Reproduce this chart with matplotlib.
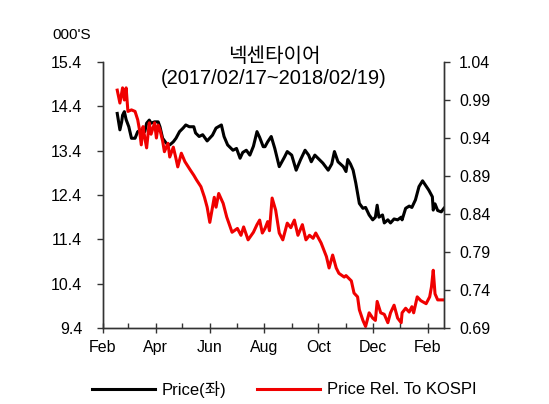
import pandas as pd
import matplotlib
matplotlib.use('Agg')
import matplotlib.pyplot as plt
import matplotlib.dates as mdates

plt.rcParams['font.family'] = ['Liberation Sans', 'Noto Sans CJK KR']

# 주가 (천원, 좌축)
price_dates = ['2017-02-17', '2017-02-20', '2017-02-22', '2017-02-23', '2017-02-25',
               '2017-02-27', '2017-03-02', '2017-03-05', '2017-03-09', '2017-03-12',
               '2017-03-16', '2017-03-20', '2017-03-22', '2017-03-25', '2017-03-27',
               '2017-03-31', '2017-04-04', '2017-04-06', '2017-04-09', '2017-04-13',
               '2017-04-17', '2017-04-21', '2017-04-24', '2017-04-28', '2017-05-02',
               '2017-05-05', '2017-05-09', '2017-05-14', '2017-05-16', '2017-05-20',
               '2017-05-24', '2017-05-29', '2017-06-04', '2017-06-08', '2017-06-14',
               '2017-06-17', '2017-06-21', '2017-06-27', '2017-07-01', '2017-07-05',
               '2017-07-08', '2017-07-12', '2017-07-16', '2017-07-20', '2017-07-24',
               '2017-07-27', '2017-07-31', '2017-08-02', '2017-08-05', '2017-08-09',
               '2017-08-13', '2017-08-18', '2017-08-24', '2017-08-27', '2017-09-01',
               '2017-09-06', '2017-09-11', '2017-09-16', '2017-09-20', '2017-09-23',
               '2017-09-27', '2017-10-02', '2017-10-06', '2017-10-12', '2017-10-16',
               '2017-10-19', '2017-10-23', '2017-10-29', '2017-11-01', '2017-11-03',
               '2017-11-06', '2017-11-09', '2017-11-12', '2017-11-16', '2017-11-20',
               '2017-11-23', '2017-11-27', '2017-12-01', '2017-12-04', '2017-12-06',
               '2017-12-08', '2017-12-12', '2017-12-14', '2017-12-18', '2017-12-21',
               '2017-12-25', '2017-12-29', '2018-01-02', '2018-01-03', '2018-01-07',
               '2018-01-11', '2018-01-14', '2018-01-18', '2018-01-22', '2018-01-26',
               '2018-01-30', '2018-02-02', '2018-02-06', '2018-02-07', '2018-02-09',
               '2018-02-12', '2018-02-16', '2018-02-19']
price = [14.24, 13.87, 14.05, 14.20, 14.28,
         14.10, 13.94, 13.68, 13.68, 13.83,
         13.87, 13.83, 14.02, 14.09, 14.02,
         14.05, 14.05, 13.94, 13.68, 13.57,
         13.53, 13.60, 13.68, 13.83, 13.91,
         13.98, 13.94, 13.94, 13.80, 13.72,
         13.76, 13.62, 13.75, 13.91, 13.98,
         13.72, 13.53, 13.41, 13.45, 13.23,
         13.36, 13.41, 13.30, 13.50, 13.83,
         13.70, 13.49, 13.49, 13.60, 13.72,
         13.45, 13.04, 13.26, 13.38, 13.30,
         12.96, 13.20, 13.41, 13.30, 13.15,
         13.30, 13.20, 13.12, 12.96, 13.10,
         13.38, 13.15, 13.04, 12.93, 13.20,
         13.10, 12.96, 12.67, 12.21, 12.10,
         12.12, 11.95, 11.84, 11.90, 12.17,
         11.90, 11.95, 11.77, 11.84, 11.77,
         11.86, 11.84, 11.90, 11.84, 12.10,
         12.15, 12.12, 12.29, 12.59, 12.72,
         12.60, 12.51, 12.36, 12.06, 12.20,
         12.05, 12.02, 12.10]

# KOSPI 대비 상대주가 (우축)
rel_dates = ['2017-02-17', '2017-02-20', '2017-02-23', '2017-02-25', '2017-02-27',
             '2017-03-01', '2017-03-05', '2017-03-09', '2017-03-12', '2017-03-14',
             '2017-03-16', '2017-03-18', '2017-03-20', '2017-03-22', '2017-03-25',
             '2017-03-27', '2017-03-31', '2017-04-02', '2017-04-04', '2017-04-06',
             '2017-04-09', '2017-04-11', '2017-04-15', '2017-04-17', '2017-04-21',
             '2017-04-24', '2017-04-26', '2017-04-30', '2017-05-04', '2017-05-10',
             '2017-05-14', '2017-05-17', '2017-05-22', '2017-05-26', '2017-05-29',
             '2017-06-01', '2017-06-06', '2017-06-08', '2017-06-11', '2017-06-16',
             '2017-06-20', '2017-06-26', '2017-07-02', '2017-07-06', '2017-07-09',
             '2017-07-14', '2017-07-20', '2017-07-24', '2017-07-27', '2017-07-30',
             '2017-08-02', '2017-08-05', '2017-08-07', '2017-08-10', '2017-08-14',
             '2017-08-18', '2017-08-22', '2017-08-27', '2017-08-31', '2017-09-04',
             '2017-09-08', '2017-09-13', '2017-09-17', '2017-09-21', '2017-09-25',
             '2017-09-28', '2017-10-04', '2017-10-10', '2017-10-13', '2017-10-17',
             '2017-10-21', '2017-10-24', '2017-10-30', '2017-11-01', '2017-11-07',
             '2017-11-10', '2017-11-14', '2017-11-16', '2017-11-20', '2017-11-23',
             '2017-11-27', '2017-12-01', '2017-12-04', '2017-12-06', '2017-12-10',
             '2017-12-14', '2017-12-18', '2017-12-21', '2017-12-25', '2017-12-29',
             '2018-01-02', '2018-01-03', '2018-01-07', '2018-01-11', '2018-01-14',
             '2018-01-16', '2018-01-20', '2018-01-24', '2018-01-30', '2018-02-03',
             '2018-02-05', '2018-02-07', '2018-02-09', '2018-02-12', '2018-02-19']
rel = [1.003, 0.986, 1.006, 0.990, 1.006,
       0.975, 0.977, 0.975, 0.964, 0.951,
       0.931, 0.955, 0.940, 0.927, 0.960,
       0.945, 0.960, 0.940, 0.957, 0.951,
       0.936, 0.922, 0.933, 0.915, 0.928,
       0.913, 0.902, 0.920, 0.909, 0.898,
       0.891, 0.885, 0.876, 0.862, 0.849,
       0.829, 0.862, 0.849, 0.867, 0.854,
       0.836, 0.816, 0.821, 0.812, 0.823,
       0.806, 0.816, 0.826, 0.832, 0.815,
       0.821, 0.830, 0.818, 0.861, 0.845,
       0.815, 0.806, 0.828, 0.822, 0.832,
       0.812, 0.826, 0.806, 0.812, 0.808,
       0.815, 0.802, 0.784, 0.769, 0.786,
       0.769, 0.762, 0.757, 0.759, 0.752,
       0.736, 0.731, 0.714, 0.700, 0.692,
       0.710, 0.703, 0.700, 0.725, 0.710,
       0.708, 0.697, 0.710, 0.720, 0.703,
       0.697, 0.710, 0.716, 0.711, 0.718,
       0.710, 0.731, 0.726, 0.722, 0.731,
       0.744, 0.766, 0.735, 0.727, 0.727]

left_ticks = [9.4, 10.4, 11.4, 12.4, 13.4, 14.4, 15.4]
right_ticks = [0.69, 0.74, 0.79, 0.84, 0.89, 0.94, 0.99, 1.04]

fig = plt.figure(figsize=(5.49, 4.04), dpi=100)
ax = fig.add_axes([0.1876, 0.1881, 0.621, 0.6584])
ax2 = ax.twinx()

l1, = ax.plot(pd.to_datetime(price_dates), price, color='black', lw=2.2, label='Price(좌)')
l2, = ax2.plot(pd.to_datetime(rel_dates), rel, color='#f00000', lw=2.2,
               label='Price Rel. To KOSPI')

ax.set_xlim(pd.Timestamp('2017-02-01'), pd.Timestamp('2018-02-19'))
ax.set_ylim(9.4, 15.4)
ax2.set_ylim(0.69, 1.04)
ax.set_yticks(left_ticks)
ax.set_yticklabels(['%.1f' % v for v in left_ticks])
ax2.set_yticks(right_ticks)
ax2.set_yticklabels(['%.2f' % v for v in right_ticks])

ax.xaxis.set_major_locator(mdates.MonthLocator(bymonth=[2, 4, 6, 8, 10, 12]))
ax.xaxis.set_minor_locator(mdates.MonthLocator())
ax.xaxis.set_major_formatter(mdates.DateFormatter('%b'))

spine_c = '#333333'
for a in (ax, ax2):
    a.spines['top'].set_visible(False)
    for s in ('left', 'right', 'bottom'):
        a.spines[s].set_color(spine_c)
        a.spines[s].set_linewidth(1.0)

ax.tick_params(axis='x', which='major', direction='inout', length=7, width=1,
               color=spine_c, labelsize=11.5, pad=5)
ax.tick_params(axis='x', which='minor', direction='in', length=3.5, width=1, color=spine_c)
ax.tick_params(axis='y', direction='out', length=4, width=1, color=spine_c,
               labelsize=11.5, pad=11)
ax2.tick_params(axis='y', direction='out', length=4, width=1, color=spine_c,
                labelsize=11.5, pad=7)

fig.text(52.7 / 549, 1 - 35 / 404, "000'S", fontsize=11, ha='left', va='center')
fig.text(274 / 549, 1 - 57 / 404, '넥센타이어', fontsize=14.5, ha='center', va='center')
fig.text(274 / 549, 1 - 79 / 404, '(2017/02/17~2018/02/19)', fontsize=14.5,
         ha='center', va='center')

fig.legend(handles=[l1, l2], loc='center', bbox_to_anchor=(284 / 549, 1 - 389 / 404),
           ncol=2, frameon=False, fontsize=12, handlelength=3.8, handletextpad=0.4,
           columnspacing=1.8, borderaxespad=0)

fig.savefig('out.png', dpi=100)
